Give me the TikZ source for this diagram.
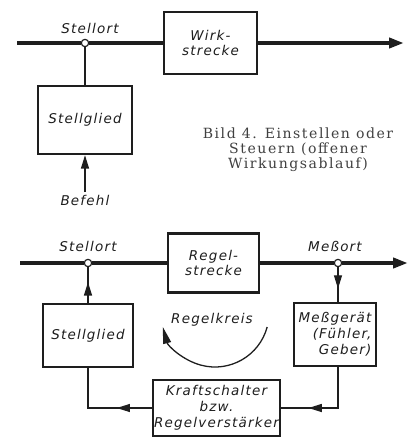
\documentclass[tikz,border=0pt]{standalone}
\usepackage{fontspec}
\usetikzlibrary{arrows.meta,decorations.markings,positioning}
\newfontfamily\dinfont{DejaVu Sans}[LetterSpace=9]
\newfontfamily\bildfont{DejaVu Serif}[LetterSpace=11]
\definecolor{inkgray}{RGB}{30,30,30}

\begin{document}
\begin{tikzpicture}[
    x=0.03cm, y=-0.03cm,
    block/.style={rectangle, draw=inkgray, line width=1.8pt, fill=white, text=inkgray, font=\dinfont\itshape\fontsize{11.5}{13.5}\selectfont, align=center, inner sep=1pt},
    tag/.style={font=\dinfont\itshape\fontsize{11.5}{13.5}\selectfont, text=inkgray, inner sep=2pt},
    mainline/.style={line width=3.4pt, draw=inkgray},
    bigtip/.style={-{Triangle[length=4.5mm,width=3mm]}},
    signal/.style={line width=1pt, draw=inkgray},
    smalltip/.style={-{Triangle[length=4mm,width=2.4mm]}},
    junction/.style={circle, draw=inkgray, line width=1pt, fill=white, inner sep=0pt, minimum size=2.2mm},
    midarrow/.style={postaction={decorate}, decoration={markings, mark=at position #1 with {\arrow{Triangle[length=4mm,width=2.4mm]}}}}
]
\useasboundingbox (0,0) rectangle (412,438);

% --- offener Wirkungsablauf
\coordinate (in1) at (17,43);
\coordinate (out1) at (404,43);
\node[junction] (j1) at (85,43) {};
\node[block, minimum width=2.8cm, minimum height=1.85cm] (ws) at (210.5,43) {Wirk-\\strecke};
\node[block, minimum width=2.8cm, minimum height=2.05cm] (sg1) at (85,120) {Stellglied};
\node[tag] (so1) at (90,28) {Stellort};
\node[tag] (bef) at (85,200) {Befehl};

\draw[mainline] (in1) -- (j1);
\draw[mainline] (j1) -- (ws);
\draw[mainline, bigtip] (ws) -- (out1);
\draw[signal] (j1) -- (sg1);
\draw[signal, smalltip] (bef) -- (sg1);

\node[font=\bildfont\fontsize{12}{12.8}\selectfont, text=inkgray!85, align=center] (bild) at (298,150)
    {Bild 4. Einstellen oder\\Steuern (offener\\Wirkungsablauf)};

% --- Regelkreis
\coordinate (in2) at (20,263);
\coordinate (out2) at (408,263);
\node[junction] (j2) at (88,263) {};
\node[junction] (j3) at (338,263) {};
\node[block, minimum width=2.72cm, minimum height=1.77cm] (rs) at (213.5,263) {Regel-\\strecke};
\node[block, minimum width=2.72cm, minimum height=1.9cm] (sg2) at (88,335.5) {Stellglied};
\node[block, minimum width=2.45cm, minimum height=1.9cm, align=right] (mg) at (335,334.5) {Meßgerät\\(Fühler,\\Geber)};
\node[block, minimum width=3.75cm, minimum height=1.7cm] (ks) at (216.5,408) {Kraftschalter\\bzw.\\Regelverstärker};
\node[tag] (so2) at (88,246) {Stellort};
\node[tag] (mo) at (335,246) {Meßort};
\node[tag] (rk) at (212,320) {Regelkreis};

\draw[mainline] (in2) -- (j2);
\draw[mainline] (j2) -- (rs);
\draw[mainline] (rs) -- (j3);
\draw[mainline, bigtip] (j3) -- (out2);

\draw[signal, midarrow=0.58] (sg2.north -| j2) -- (j2);
\draw[signal, midarrow=0.62] (j3) -- (j3 |- mg.north);
\draw[signal, midarrow=0.72] (mg.south -| j3) |- (ks.east);
\draw[signal, midarrow=0.34] (ks.west) -| (sg2.south -| j2);

\coordinate (rkc) at (215,313);
\draw[signal, line width=1.1pt, -{Triangle[length=5mm,width=2.4mm]}] ([shift={(15:54)}]rkc) arc[start angle=15, end angle=165, radius=54];

\end{tikzpicture}
\end{document}
